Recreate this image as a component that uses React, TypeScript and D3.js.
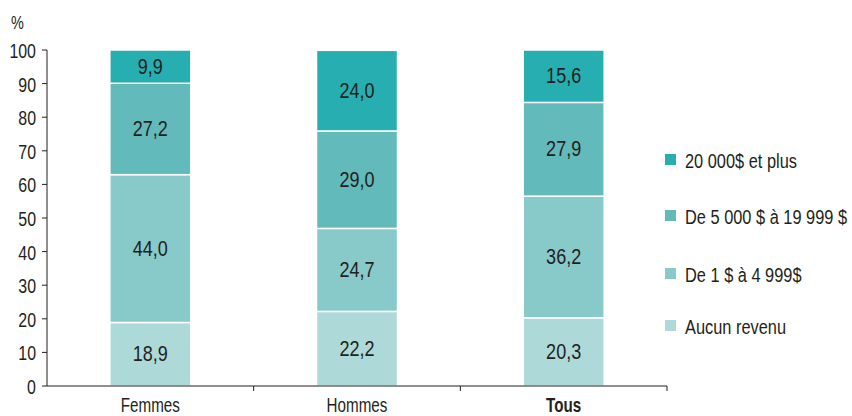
import React from 'react';
import * as d3 from 'd3';

const categories = ['Femmes', 'Hommes', 'Tous'];
const seriesNames = ['Aucun revenu', 'De 1 $ à 4 999$', 'De 5 000 $ à 19 999 $', '20 000$ et plus'];
const aucunRevenu = [18.9, 22.2, 20.3];
const de1a4999 = [44.0, 24.7, 36.2];
const de5000a19999 = [27.2, 29.0, 27.9];
const plus20000 = [9.9, 24.0, 15.6];
const yTicks = [0, 10, 20, 30, 40, 50, 60, 70, 80, 90, 100];
const colors = ['#ADD9D8', '#88C9CA', '#62BABA', '#27AEB0'];

const W = 852;
const H = 416;
const margin = { top: 50, left: 47, bottom: 30, right: 185 };
const font = "'Liberation Sans', Arial, sans-serif";
const ink = '#231f20';

// narrow text: the reference uses a condensed face, so squeeze a regular one
const T: React.FC<{ x: number; y: number; size?: number; sx?: number; anchor?: string; bold?: boolean; children: React.ReactNode }> = ({
  x, y, size = 21, sx = 0.76, anchor = 'start', bold = false, children,
}) => (
  <text
    transform={`translate(${x},${y}) scale(${sx},1)`}
    textAnchor={anchor}
    fontSize={size}
    fontWeight={bold ? 'bold' : 'normal'}
    fill={ink}
  >
    {children}
  </text>
);

const App: React.FC = () => {
  const rows = categories.map((c, i) => ({
    cat: c,
    s0: aucunRevenu[i],
    s1: de1a4999[i],
    s2: de5000a19999[i],
    s3: plus20000[i],
  }));
  const keys = ['s0', 's1', 's2', 's3'];
  const stack = d3.stack<any>().keys(keys)(rows);

  const x = d3.scaleBand().domain(categories).range([margin.left, W - margin.right]);
  const y = d3.scaleLinear().domain([0, 100]).range([H - margin.bottom, margin.top]);
  const barW = 81;
  const fmt = (v: number) => v.toFixed(1).replace('.', ',');

  const legendY = [160, 216, 274, 326];

  return (
    <svg width={W} height={H} style={{ position: 'absolute', left: 0, top: 0 }} fontFamily={font}>
      <T x={11} y={29} size={19}>%</T>
      {/* bars */}
      {stack.map((layer, si) => (
        <g key={si}>
          {layer.map((d, ci) => {
            const cx = x(categories[ci])! + x.bandwidth() / 2;
            const y0 = y(d[0]);
            const y1 = y(d[1]);
            return (
              <g key={ci}>
                <rect x={cx - barW / 2} y={y1} width={barW} height={y0 - y1} fill={colors[si]} stroke="#fff" strokeWidth={1.5} />
                <T x={cx} y={(y0 + y1) / 2 + 7} anchor="middle" size={22} sx={0.82}>{fmt(d[1] - d[0])}</T>
              </g>
            );
          })}
        </g>
      ))}
      {/* y axis */}
      <line x1={margin.left} x2={margin.left} y1={y(100)} y2={y(0)} stroke={ink} />
      {yTicks.map((t) => (
        <g key={t}>
          <line x1={margin.left - 5} x2={margin.left} y1={y(t)} y2={y(t)} stroke={ink} />
          <T x={margin.left - 11} y={y(t) + 8} anchor="end">{t}</T>
        </g>
      ))}
      {/* x axis */}
      <line x1={margin.left} x2={W - margin.right} y1={y(0)} y2={y(0)} stroke={ink} />
      {categories.map((c, i) => (
        <g key={c}>
          <line x1={x(c)! + x.bandwidth()} x2={x(c)! + x.bandwidth()} y1={y(0)} y2={y(0) + 5} stroke={ink} />
          <T x={x(c)! + x.bandwidth() / 2} y={y(0) + 26} anchor="middle" size={20} bold={i === 2}>{c}</T>
        </g>
      ))}
      {/* legend */}
      {[3, 2, 1, 0].map((si, li) => (
        <g key={si}>
          <rect x={665} y={legendY[li] - 6} width={11} height={11} fill={colors[si]} />
          <T x={685} y={legendY[li] + 8} size={21} sx={0.78}>{seriesNames[si]}</T>
        </g>
      ))}
    </svg>
  );
};

export default App;
